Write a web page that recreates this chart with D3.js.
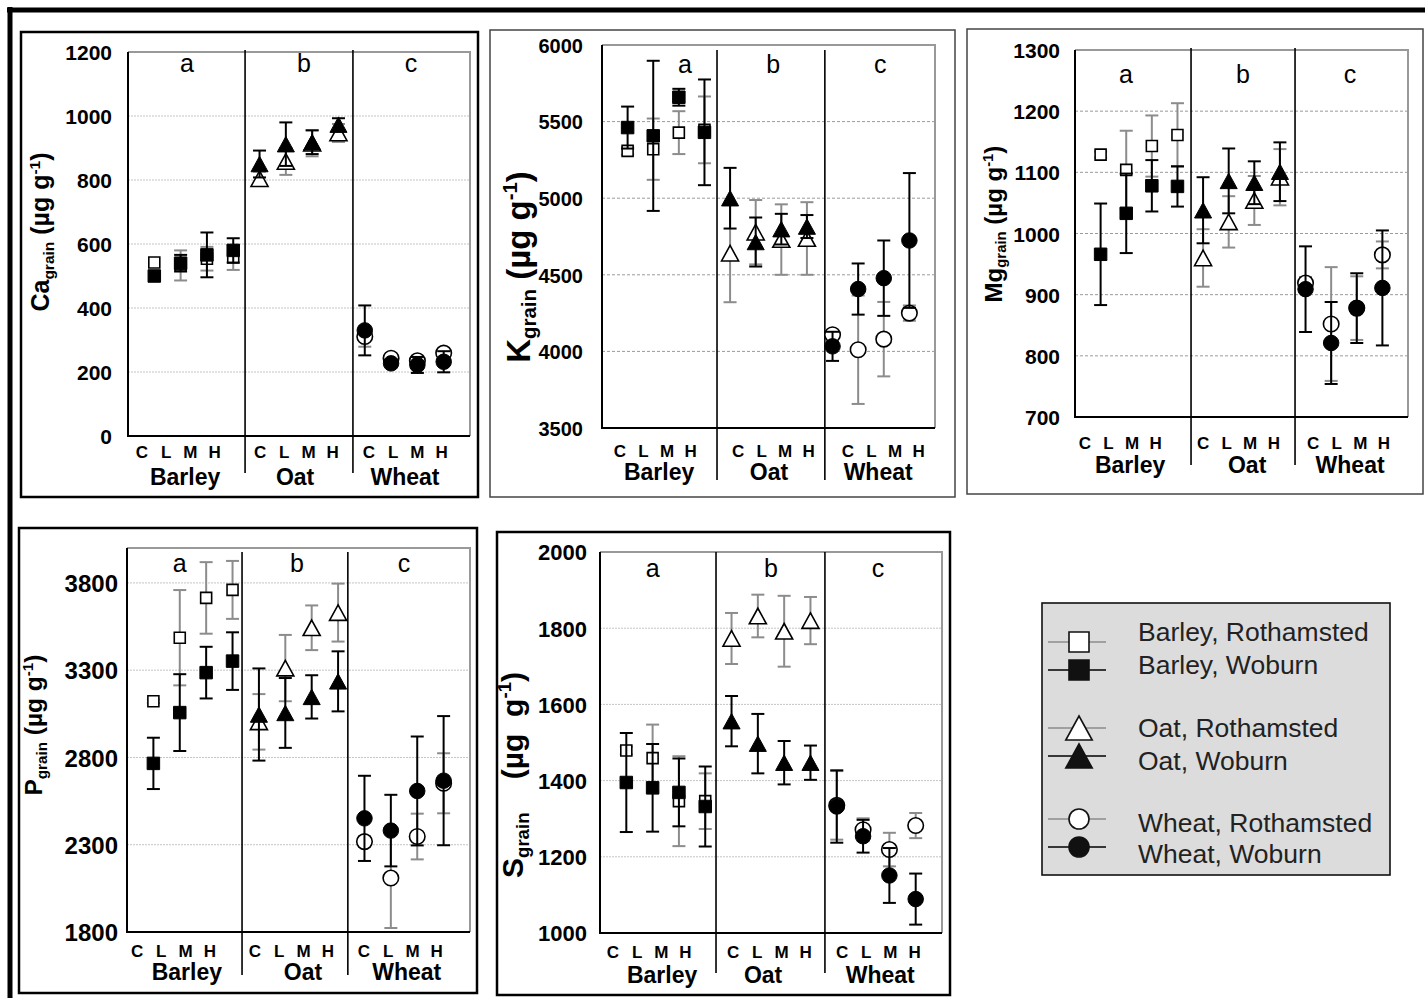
<!DOCTYPE html>
<html>
<head>
<meta charset="utf-8">
<script src="https://cdn.jsdelivr.net/npm/d3@7"></script>
<style>
  body { margin: 0; background: #fff; }
  svg { display: block; font-family: "Liberation Sans", Arial, sans-serif; }
</style>
</head>
<body>
<svg id="chart" width="1425" height="998"></svg>
<script>
const crops = ["Barley", "Oat", "Wheat"];
const treatments = ["C", "L", "M", "H"];
const groupLetters = ["a", "b", "c"];
const sites = ["Rothamsted", "Woburn"];

// values in order Barley C,L,M,H / Oat C,L,M,H / Wheat C,L,M,H  (µg g-1)
const caRoth    = [542, 533, 554, 558, 804, 858, 915, 947, 311, 243, 235, 259];
const caRothErr = [0, 47, 37, 39, 22, 42, 41, 28, 32, 12, 10, 10];
const caWob     = [500, 540, 566, 580, 850, 912, 918, 973, 330, 227, 222, 232];
const caWobErr  = [0, 26, 70, 38, 42, 68, 37, 20, 78, 12, 25, 33];

const kRoth    = [5309, 5320, 5428, 5446, 4641, 4778, 4730, 4737, 4109, 4011, 4080, 4250];
const kRothErr = [25, 200, 140, 218, 320, 210, 230, 237, 20, 354, 243, 50];
const kWob     = [5461, 5407, 5659, 5430, 5000, 4714, 4798, 4815, 4033, 4407, 4478, 4724];
const kWobErr  = [137, 490, 55, 345, 198, 160, 100, 75, 95, 167, 246, 440];

const mgRoth    = [1129, 1104, 1143, 1161, 960, 1019, 1054, 1092, 919, 852, 878, 965];
const mgRothErr = [5, 64, 50, 52, 47, 42, 40, 46, 10, 93, 52, 22];
const mgWob     = [966, 1033, 1078, 1077, 1038, 1086, 1083, 1101, 909, 821, 878, 911];
const mgWobErr  = [83, 65, 42, 33, 54, 53, 35, 48, 70, 67, 57, 94];

const pRoth    = [3122, 3486, 3714, 3760, 3004, 3312, 3543, 3630, 2318, 2109, 2347, 2652];
const pRothErr = [10, 273, 205, 166, 159, 190, 128, 166, 30, 286, 131, 172];
const pWob     = [2766, 3057, 3286, 3352, 3046, 3055, 3147, 3236, 2451, 2381, 2608, 2667];
const pWobErr  = [147, 220, 148, 165, 264, 200, 124, 172, 244, 205, 312, 370];

const sRoth    = [1479, 1459, 1346, 1346, 1773, 1832, 1792, 1820, 1335, 1271, 1219, 1282];
const sRothErr = [10, 88, 118, 73, 67, 56, 93, 62, 90, 30, 44, 33];
const sWob     = [1395, 1381, 1369, 1332, 1556, 1497, 1447, 1447, 1332, 1254, 1151, 1089];
const sWobErr  = [130, 115, 89, 105, 66, 78, 57, 45, 95, 43, 72, 67];

const caTicks = [0, 200, 400, 600, 800, 1000, 1200];
const kTicks = [3500, 4000, 4500, 5000, 5500, 6000];
const mgTicks = [700, 800, 900, 1000, 1100, 1200, 1300];
const pTicks = [1800, 2300, 2800, 3300, 3800];
const sTicks = [1000, 1200, 1400, 1600, 1800, 2000];

// layout of each panel (pixels / x-units of the 0..13 category axis)
const panels = [
  {el: "Ca", roth: caRoth, rothErr: caRothErr, wob: caWob, wobErr: caWobErr,
   box: [21, 32, 457, 465], boxColor: "#000", boxWidth: 2.5,
   plot: [128, 52, 470, 436], yDomain: [0, 1200], ticks: caTicks, grid: "dot",
   tickSize: 21, tickGap: 16, dividers: [4.45, 8.55], divTop: 50, divBottom: 473,
   labelStart: [0.53, 5.02, 9.16], groupX: [2.17, 6.35, 10.53], letterX: [2.24, 6.69, 10.76],
   letterY: 72, catY: 458, groupY: 485, titleX: 40, titleY: 232, titleSize: 25, gap: [1, 1]},
  {el: "K", roth: kRoth, rothErr: kRothErr, wob: kWob, wobErr: kWobErr,
   box: [490, 30, 465, 467], boxColor: "#444", boxWidth: 1.5,
   plot: [602, 45, 935, 428], yDomain: [3500, 6000], ticks: kTicks, grid: "dash",
   tickSize: 20, tickGap: 19, dividers: [4.49, 8.7], divTop: 50, divBottom: 480,
   labelStart: [0.7, 5.31, 9.6], groupX: [2.23, 6.52, 10.78], letterX: [3.24, 6.68, 10.86],
   letterY: 73, catY: 457, groupY: 480, titleX: 518, titleY: 267, titleSize: 33, gap: [1, 1]},
  {el: "Mg", roth: mgRoth, rothErr: mgRothErr, wob: mgWob, wobErr: mgWobErr,
   box: [967, 29, 456, 465], boxColor: "#444", boxWidth: 1.5,
   plot: [1075, 50, 1408, 417], yDomain: [700, 1300], ticks: mgTicks, grid: "dash",
   tickSize: 21, tickGap: 15, dividers: [4.53, 8.59], divTop: 48, divBottom: 465,
   labelStart: [0.39, 5.0, 9.3], groupX: [2.15, 6.72, 10.74], letterX: [1.99, 6.56, 10.74],
   letterY: 83, catY: 449, groupY: 473, titleX: 993, titleY: 224, titleSize: 24, gap: [1, 1]},
  {el: "P", roth: pRoth, rothErr: pRothErr, wob: pWob, wobErr: pWobErr,
   box: [19, 528, 458, 465], boxColor: "#000", boxWidth: 2.5,
   plot: [127, 548, 470, 932], yDomain: [1800, 4000], ticks: pTicks, grid: "dot",
   tickSize: 24, tickGap: 9, dividers: [4.36, 8.37], divTop: 552, divBottom: 975,
   labelStart: [0.38, 4.85, 8.98], groupX: [2.27, 6.67, 10.6], letterX: [2.0, 6.44, 10.5],
   letterY: 572, catY: 957, groupY: 980, titleX: 33, titleY: 725, titleSize: 24.5, gap: [1, 1]},
  {el: "S", roth: sRoth, rothErr: sRothErr, wob: sWob, wobErr: sWobErr,
   box: [497, 532, 453, 463], boxColor: "#000", boxWidth: 2.5,
   plot: [600, 552, 942, 933], yDomain: [1000, 2000], ticks: sTicks, grid: "dot",
   tickSize: 22, tickGap: 13, dividers: [4.41, 8.55], divTop: 552, divBottom: 973,
   labelStart: [0.49, 5.06, 9.2], groupX: [2.36, 6.2, 10.65], letterX: [2.0, 6.5, 10.57],
   letterY: 577, catY: 958, groupY: 983, titleX: 512, titleY: 775, titleSize: 30, gap: [4, 2]}
];

const shapes = ["square", "triangle", "circle"];
const greyBar = "#8c8c8c";

function markerPath(shape, s) {
  if (shape === "square") return `M${-s / 2},${-s / 2}h${s}v${s}h${-s}Z`;
  if (shape === "triangle") {
    const w = s * 1.1, h = s;
    return `M0,${-h / 2}L${w / 2},${h / 2}L${-w / 2},${h / 2}Z`;
  }
  const p = d3.path();
  p.arc(0, 0, s / 2, 0, 2 * Math.PI);
  p.closePath();
  return p.toString();
}

const svg = d3.select("#chart");

// outer frame (top and left edges only are visible)
svg.append("line").attr("x1", 7).attr("x2", 1425).attr("y1", 10).attr("y2", 10)
  .attr("stroke", "#000").attr("stroke-width", 5);
svg.append("line").attr("x1", 10).attr("x2", 10).attr("y1", 7).attr("y2", 998)
  .attr("stroke", "#000").attr("stroke-width", 5);

panels.forEach(p => {
  const g = svg.append("g").attr("class", "panel-" + p.el);
  const [l, t, r, b] = p.plot;
  const x = d3.scaleLinear().domain([0, 13]).range([l, r]);
  const y = d3.scaleLinear().domain(p.yDomain).range([b, t]);

  g.append("rect")
    .attr("x", p.box[0]).attr("y", p.box[1]).attr("width", p.box[2]).attr("height", p.box[3])
    .attr("fill", "#fff").attr("stroke", p.boxColor).attr("stroke-width", p.boxWidth);

  // gridlines
  g.append("g").selectAll("line").data(p.ticks.filter(v => v > p.yDomain[0] && v < p.yDomain[1]))
    .join("line")
    .attr("x1", l).attr("x2", r)
    .attr("y1", d => y(d)).attr("y2", d => y(d))
    .attr("stroke", p.grid === "dot" ? "#c4c4c4" : "#9a9a9a")
    .attr("stroke-width", 1)
    .attr("stroke-dasharray", p.grid === "dot" ? "2,1" : "3,2");

  // plot area frame: grey top/right, black axes
  g.append("path").attr("d", `M${l},${t}H${r}V${b}`).attr("fill", "none")
    .attr("stroke", "#999").attr("stroke-width", 2);
  g.append("path").attr("d", `M${l},${t}V${b}H${r}`).attr("fill", "none")
    .attr("stroke", "#000").attr("stroke-width", 2);

  // y tick labels via axis
  const yAxis = g.append("g").attr("transform", `translate(${l - p.tickGap},0)`)
    .call(d3.axisLeft(y).tickValues(p.ticks).tickFormat(d3.format("d")).tickSize(0).tickPadding(0));
  yAxis.select(".domain").remove();
  yAxis.selectAll("text")
    .attr("font-family", "Liberation Sans, Arial, sans-serif")
    .attr("font-size", p.tickSize).attr("font-weight", "bold").attr("fill", "#000")
    .attr("dy", "0.36em");

  // group dividers
  g.append("g").selectAll("line").data(p.dividers).join("line")
    .attr("x1", d => x(d)).attr("x2", d => x(d))
    .attr("y1", p.divTop).attr("y2", p.divBottom)
    .attr("stroke", "#000").attr("stroke-width", 1.6);

  // letters a b c
  g.append("g").selectAll("text").data(groupLetters).join("text")
    .attr("x", (d, i) => x(p.letterX[i])).attr("y", p.letterY)
    .attr("text-anchor", "middle").attr("font-size", 25).text(d => d);

  // category and crop labels
  crops.forEach((c, ci) => {
    g.append("g").selectAll("text").data(treatments).join("text")
      .attr("x", (d, ti) => x(p.labelStart[ci] + ti * 0.92)).attr("y", p.catY)
      .attr("text-anchor", "middle").attr("font-size", 17).attr("font-weight", "bold")
      .text(d => d);
    g.append("text").attr("x", x(p.groupX[ci])).attr("y", p.groupY)
      .attr("text-anchor", "middle").attr("font-size", 23).attr("font-weight", "bold")
      .text(c);
  });

  // y title
  const ts = p.titleSize;
  const sp = n => "\u00a0".repeat(n);
  const title = g.append("text")
    .attr("transform", `translate(${p.titleX + ts * 0.36},${p.titleY}) rotate(-90)`)
    .attr("text-anchor", "middle").attr("font-weight", "bold").attr("font-size", ts);
  title.append("tspan").text(p.el);
  title.append("tspan").attr("font-size", ts * 0.62).attr("dy", ts * 0.2).text("grain");
  title.append("tspan").attr("dy", -ts * 0.2).text(sp(p.gap[0]) + "(µg" + sp(p.gap[1]) + "g");
  title.append("tspan").attr("font-size", ts * 0.62).attr("dy", -ts * 0.38).text("-1");
  title.append("tspan").attr("dy", ts * 0.38).text(")");

  // series: Rothamsted (open, grey bars) then Woburn (filled, black bars)
  const series = [
    {vals: p.roth, errs: p.rothErr, bar: greyBar, fill: "#fff", open: true},
    {vals: p.wob, errs: p.wobErr, bar: "#000", fill: "#000", open: false}
  ];
  series.forEach(s => {
    const pts = s.vals.map((v, i) => ({i, v, e: s.errs[i], shape: shapes[Math.floor(i / 4)]}));
    const sg = g.append("g");
    const eb = sg.append("g").selectAll("g").data(pts.filter(d => d.e > 0)).join("g")
      .attr("stroke", s.bar).attr("stroke-width", 2);
    eb.append("line")
      .attr("x1", d => x(d.i + 1)).attr("x2", d => x(d.i + 1))
      .attr("y1", d => y(d.v - d.e)).attr("y2", d => y(d.v + d.e));
    eb.append("line")
      .attr("x1", d => x(d.i + 1) - 6.5).attr("x2", d => x(d.i + 1) + 6.5)
      .attr("y1", d => y(d.v + d.e)).attr("y2", d => y(d.v + d.e));
    eb.append("line")
      .attr("x1", d => x(d.i + 1) - 6.5).attr("x2", d => x(d.i + 1) + 6.5)
      .attr("y1", d => y(d.v - d.e)).attr("y2", d => y(d.v - d.e));

    sg.append("g").selectAll("path").data(pts).join("path")
      .attr("transform", d => `translate(${x(d.i + 1)},${y(d.v)})`)
      .attr("d", d => {
        if (d.shape === "square") return markerPath("square", s.open ? 11 : 12.5);
        if (d.shape === "triangle") return markerPath("triangle", 15.5);
        return markerPath("circle", 15.5);
      })
      .attr("fill", s.fill)
      .attr("stroke", "#000").attr("stroke-width", s.open ? 1.6 : 1);
  });
});

// legend
const legend = svg.append("g").attr("class", "legend");
legend.append("rect").attr("x", 1042).attr("y", 603).attr("width", 348).attr("height", 272)
  .attr("fill", "#dcdcdc").attr("stroke", "#111").attr("stroke-width", 1.6);

const legendRows = [];
crops.forEach((c, ci) => sites.forEach((s, si) => legendRows.push({crop: c, site: s, ci, si})));
const legendSymY = d3.scaleLinear().domain([0, 1]).range([0, 28]);
const legendGroupY = [642, 728, 819];
const legendTextY = [[641, 674], [737, 770], [832, 863]];

const rows = legend.selectAll("g.row").data(legendRows).join("g").attr("class", "row");
rows.append("line")
  .attr("x1", 1048).attr("x2", 1106)
  .attr("y1", d => legendGroupY[d.ci] + legendSymY(d.si))
  .attr("y2", d => legendGroupY[d.ci] + legendSymY(d.si))
  .attr("stroke", d => d.si === 0 ? greyBar : "#000").attr("stroke-width", 1.6);
rows.append("path")
  .attr("transform", d => `translate(1079,${legendGroupY[d.ci] + legendSymY(d.si)})`)
  .attr("d", d => shapes[d.ci] === "triangle" ? markerPath("triangle", 24) : markerPath(shapes[d.ci], 20))
  .attr("fill", d => d.si === 0 ? "#fff" : "#111")
  .attr("stroke", "#111").attr("stroke-width", 1.6);
rows.append("text")
  .attr("x", 1138).attr("y", d => legendTextY[d.ci][d.si])
  .attr("font-size", 26.5).attr("fill", "#222")
  .text(d => `${d.crop}, ${d.site}`);
</script>
</body>
</html>
